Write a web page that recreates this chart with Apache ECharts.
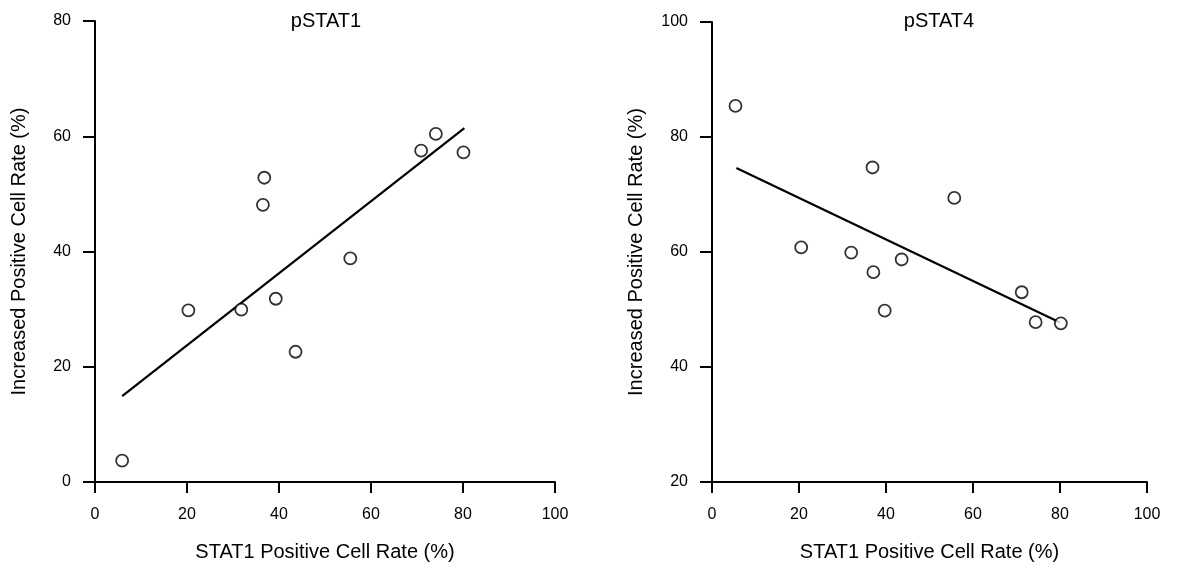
<!DOCTYPE html>
<html>
<head>
<meta charset="utf-8">
<script src="https://cdn.jsdelivr.net/npm/echarts@6/dist/echarts.min.js"></script>
<style>html,body{margin:0;padding:0;background:#fff;}#c{width:1191px;height:565px;}</style>
</head>
<body>
<div id="c"></div>
<script>
// Panel 1: pSTAT1
const x1 = [5.9, 20.3, 31.8, 36.5, 36.8, 39.3, 43.6, 55.5, 70.9, 74.1, 80.1];
const y1 = [3.7, 29.8, 29.9, 48.1, 52.8, 31.8, 22.6, 38.8, 57.5, 60.4, 57.2];
const fitX1 = [5.9, 80.3];
const fitY1 = [14.9, 61.4];
// Panel 2: pSTAT4
const x2 = [5.4, 20.5, 32.0, 36.9, 37.1, 39.7, 43.6, 55.7, 71.2, 74.4, 80.2];
const y2 = [85.4, 60.8, 59.9, 74.7, 56.5, 49.8, 58.7, 69.4, 53.0, 47.8, 47.6];
const fitX2 = [5.6, 80.0];
const fitY2 = [74.6, 47.75];
const titles = ['pSTAT1', 'pSTAT4'];
const xName = 'STAT1 Positive Cell Rate (%)';
const yName = 'Increased Positive Cell Rate (%)';
const xTicks = {min: 0, max: 100, interval: 20};
const yTicks1 = {min: 0, max: 80, interval: 20};
const yTicks2 = {min: 20, max: 100, interval: 20};

const font = 'Liberation Sans, Arial, sans-serif';
const zip = (a, b) => a.map((v, i) => [v, b[i]]);

function xAxis(gi) {
  return {
    gridIndex: gi, type: 'value', min: xTicks.min, max: xTicks.max, interval: xTicks.interval,
    name: xName, nameLocation: 'middle', nameGap: 60,
    nameTextStyle: {fontFamily: font, fontSize: 20, color: '#000'},
    axisLine: {onZero: false, lineStyle: {color: '#000', width: 2}},
    axisTick: {length: 11, lineStyle: {color: '#000', width: 2}},
    axisLabel: {margin: 25, fontFamily: font, fontSize: 16, color: '#000'},
    splitLine: {show: false}
  };
}
function yAxis(gi, t) {
  return {
    gridIndex: gi, type: 'value', min: t.min, max: t.max, interval: t.interval,
    name: yName, nameLocation: 'middle', nameGap: 66,
    nameTextStyle: {fontFamily: font, fontSize: 20, color: '#000'},
    axisLine: {onZero: false, lineStyle: {color: '#000', width: 2}},
    axisTick: {length: 12, lineStyle: {color: '#000', width: 2}},
    axisLabel: {margin: 24, fontFamily: font, fontSize: 16, color: '#000'},
    splitLine: {show: false}
  };
}
function scatter(gi, xs, ys) {
  return {
    type: 'scatter', xAxisIndex: gi, yAxisIndex: gi, data: zip(xs, ys),
    symbol: 'circle', symbolSize: 12,
    itemStyle: {color: '#fff', borderColor: '#000', borderWidth: 1.8},
    z: 3
  };
}
function fit(gi, xs, ys) {
  return {
    type: 'line', xAxisIndex: gi, yAxisIndex: gi, data: zip(xs, ys),
    symbol: 'none', lineStyle: {color: '#000', width: 2.2}, z: 2, animation: false
  };
}

const chart = echarts.init(document.getElementById('c'), null, {renderer: 'canvas'});
chart.setOption({
  backgroundColor: '#fff',
  animation: false,
  title: [
    {text: titles[0], left: 321, top: 6, textAlign: 'center', textStyle: {fontFamily: font, fontSize: 20, fontWeight: 'normal', color: '#000'}},
    {text: titles[1], left: 934, top: 6, textAlign: 'center', textStyle: {fontFamily: font, fontSize: 20, fontWeight: 'normal', color: '#000'}}
  ],
  grid: [
    {left: 95, right: 636, top: 21, bottom: 83, containLabel: false, outerBoundsMode: 'none'},
    {left: 712, right: 44, top: 22, bottom: 83, containLabel: false, outerBoundsMode: 'none'}
  ],
  xAxis: [xAxis(0), xAxis(1)],
  yAxis: [yAxis(0, yTicks1), yAxis(1, yTicks2)],
  series: [scatter(0, x1, y1), fit(0, fitX1, fitY1), scatter(1, x2, y2), fit(1, fitX2, fitY2)]
});
</script>
</body>
</html>
